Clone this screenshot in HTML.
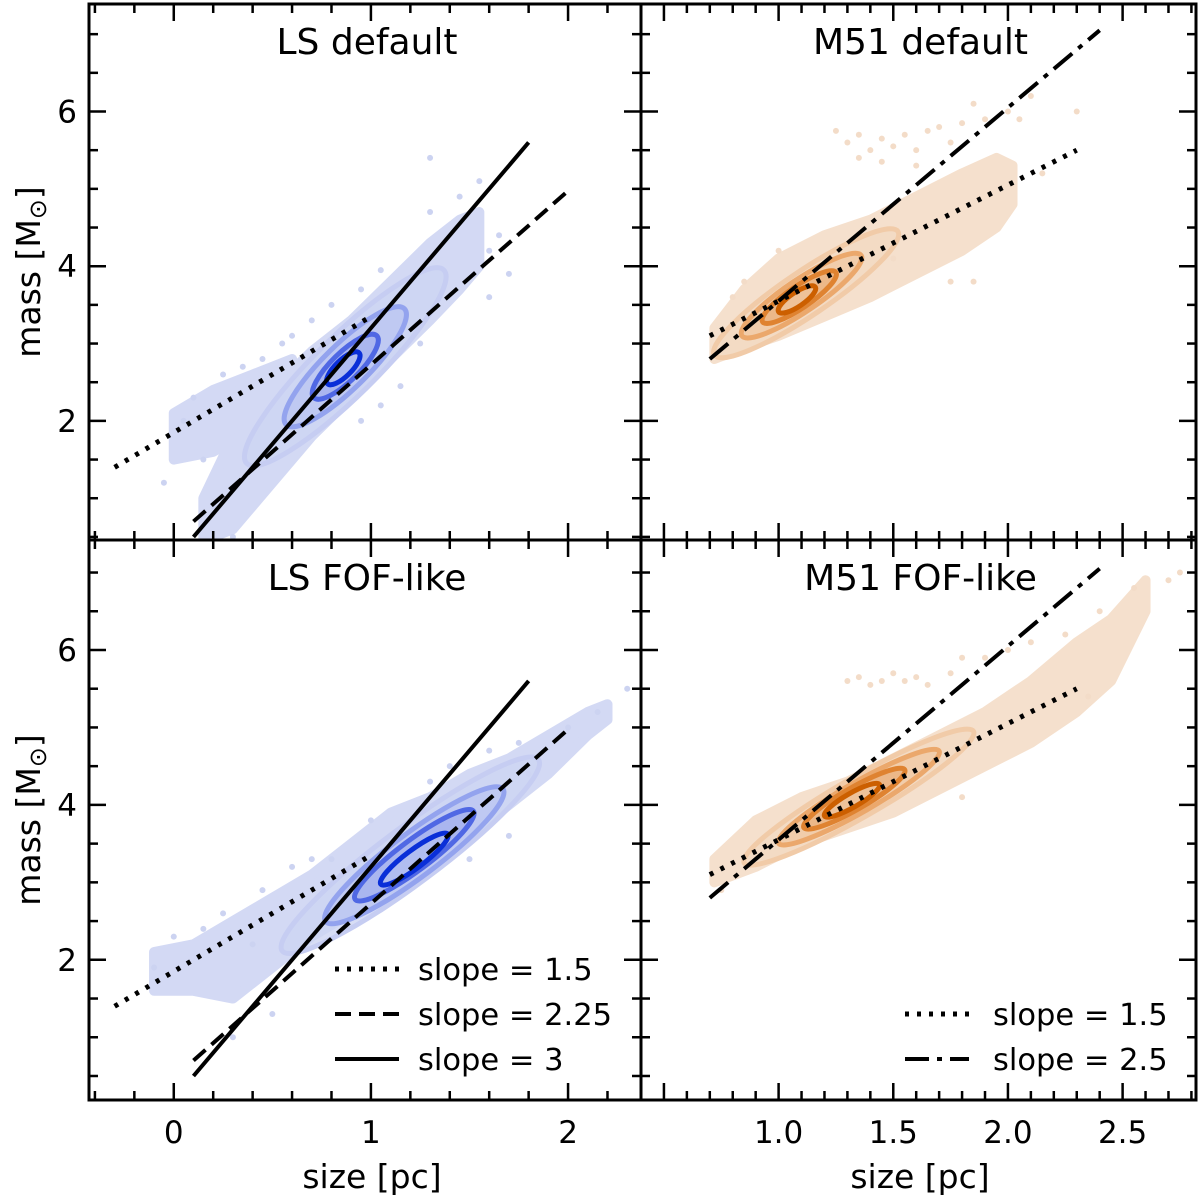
<!DOCTYPE html>
<html><head><meta charset="utf-8"><style>
body{margin:0;background:#fff}
svg{display:block;font-family:"DejaVu Sans","Liberation Sans",sans-serif}
</style></head><body>
<svg id="chart" width="1200" height="1201" viewBox="0 0 1200 1201" xmlns="http://www.w3.org/2000/svg">
<g id="content"></g>
</svg>
<script>
// ---- data ----
const titles = ["LS default","M51 default","LS FOF-like","M51 FOF-like"];
const yTicks = [2,4,6];
const xTicksLS = [0,1,2];
const xTickLabelsLS = ["0","1","2"];
const xTicksM51 = [1.0,1.5,2.0,2.5];
const xTickLabelsM51 = ["1.0","1.5","2.0","2.5"];
// fit lines: [slope, intercept, xStart, xEnd]
const lsLines = [[1.5,1.85,-0.3,1.0],[2.25,0.475,0.1,2.0],[3,0.2,0.1,1.8]];
const m51Lines = [[1.5,2.05,0.7,2.3],[2.5,1.05,0.7,2.4]];
// density bands: [x, yLow, yHigh]
const bandTL = [[0.15,0.45,1.0],[0.3,0.6,1.8],[0.5,1.2,2.4],[0.7,1.8,2.9],[0.9,2.3,3.3],[1.1,2.8,3.8],[1.3,3.3,4.3],[1.45,3.7,4.6],[1.55,4.0,4.7]];
const bandTLwing = [[0.0,1.5,2.1],[0.2,1.6,2.4],[0.4,1.9,2.6],[0.6,2.2,2.8]];
const bandTR = [[0.72,2.8,3.2],[0.85,2.95,3.7],[1.0,3.1,4.1],[1.2,3.35,4.4],[1.4,3.6,4.6],[1.6,3.9,4.9],[1.8,4.2,5.2],[1.95,4.5,5.4],[2.02,4.8,5.3]];
const bandBL = [[-0.1,1.6,2.1],[0.1,1.6,2.2],[0.3,1.5,2.5],[0.5,1.9,2.8],[0.7,2.3,3.1],[0.9,2.6,3.5],[1.1,2.9,3.9],[1.3,3.2,4.1],[1.5,3.6,4.4],[1.7,4.0,4.6],[1.9,4.4,4.9],[2.1,4.9,5.2],[2.2,5.1,5.3]];
const bandBR = [[0.72,3.0,3.3],[0.9,3.2,3.8],[1.1,3.5,4.1],[1.3,3.7,4.3],[1.5,3.9,4.6],[1.7,4.2,4.9],[1.9,4.5,5.2],[2.1,4.8,5.6],[2.3,5.2,6.1],[2.45,5.6,6.4],[2.6,6.5,6.9]];
// sparse points [x,y]
const ptsTL = [[-0.05,1.2],[0.05,2.0],[0.15,1.5],[0.1,2.3],[0.25,2.6],[0.35,2.7],[0.45,2.8],[0.55,3.0],[0.6,3.1],[0.7,3.3],[0.8,3.5],[0.95,3.7],[1.05,3.95],[1.25,3.0],[1.15,2.45],[1.05,2.2],[1.3,4.7],[1.45,4.9],[1.55,5.1],[1.6,4.2],[1.7,3.9],[1.6,3.6],[1.65,4.4],[1.3,5.4],[0.95,2.0],[0.2,0.9],[0.3,0.5]];
const ptsTR = [[1.3,5.6],[1.35,5.7],[1.4,5.5],[1.45,5.65],[1.5,5.55],[1.55,5.7],[1.6,5.5],[1.65,5.75],[1.7,5.8],[1.75,5.6],[1.8,5.85],[1.9,5.9],[2.0,6.0],[1.85,6.1],[2.05,5.9],[2.1,6.2],[2.3,6.0],[1.35,5.4],[1.6,5.3],[1.75,3.8],[1.85,3.8],[1.5,4.1],[0.8,3.6],[0.85,3.8],[1.0,4.2],[2.15,5.2],[1.25,5.75],[1.45,5.35]];
const ptsBL = [[-0.1,1.9],[0.0,2.3],[0.15,2.4],[0.25,2.6],[0.4,2.2],[0.5,1.3],[0.45,2.9],[0.6,3.2],[0.7,3.3],[0.8,3.3],[1.0,3.8],[1.3,4.3],[1.4,4.5],[1.6,4.7],[1.75,4.8],[1.7,3.6],[1.8,4.4],[2.0,5.0],[2.15,5.2],[2.3,5.5],[1.5,3.3],[0.3,1.0]];
const ptsBR = [[1.3,5.6],[1.35,5.65],[1.4,5.55],[1.45,5.6],[1.5,5.7],[1.55,5.6],[1.6,5.65],[1.65,5.55],[1.75,5.7],[1.9,5.9],[2.0,6.0],[2.1,6.1],[2.25,6.2],[2.4,6.5],[2.55,6.8],[2.7,6.9],[2.75,7.0],[1.8,5.9],[2.35,5.4],[0.75,2.9],[1.8,4.1]];
// contour rings: [cx, cy, halfLengthX, slope, minorHalfWidth]
const ringsTL = [[0.87,2.7,0.5,2.5,30],[0.87,2.7,0.3,2.5,22],[0.87,2.7,0.16,2.5,14],[0.86,2.68,0.08,2.5,8]];
const ringsTR = [[1.12,3.65,0.4,2.0,22],[1.1,3.62,0.26,2.0,16],[1.09,3.6,0.16,2.0,11],[1.08,3.57,0.08,2.0,7]];
const ringsBL = [[1.2,3.35,0.65,1.9,28],[1.22,3.35,0.45,1.9,22],[1.22,3.35,0.3,1.9,15],[1.22,3.3,0.17,1.9,9]];
const ringsBR = [[1.35,4.1,0.5,1.7,20],[1.35,4.1,0.35,1.7,15],[1.33,4.08,0.22,1.7,11],[1.32,4.06,0.12,1.7,7]];

// ---- drawing ----
const NS="http://www.w3.org/2000/svg";
const root=document.getElementById('content');
function mk(tag,attrs,parent){const e=document.createElementNS(NS,tag);for(const k in attrs)e.setAttribute(k,attrs[k]);(parent||root).appendChild(e);return e;}
const lsBlue={pt:"#ccd3f1",band:"#d3d9f4",rings:["#c6cdf2","#93a3ee","#5068e4","#0a2fd8"],fill:["#cdd4f3","#bcc5f1","#a5b2ee","#c4ccf3"]};
const mOr={pt:"#f3dcc8",band:"#f5e0cd",rings:["#f1cba8","#eba86c","#df8331","#cc5f00"],fill:["#f3d9c2","#f0c9a5","#ebb381","#f3dac3"]};
const panels=[
 {x0:89,x1:641,y0:4,y1:540,xd:[-0.43,2.37],yd:[0.46,7.39],ls:true,band:bandTL,wing:bandTLwing,pts:ptsTL,rings:ringsTL,name:"ls-default"},
 {x0:641,x1:1196,y0:4,y1:540,xd:[0.40,2.82],yd:[0.46,7.39],ls:false,band:bandTR,pts:ptsTR,rings:ringsTR,name:"m51-default"},
 {x0:89,x1:641,y0:540,y1:1100,xd:[-0.43,2.37],yd:[0.19,7.42],ls:true,band:bandBL,pts:ptsBL,rings:ringsBL,name:"ls-fof"},
 {x0:641,x1:1196,y0:540,y1:1100,xd:[0.40,2.82],yd:[0.19,7.42],ls:false,band:bandBR,pts:ptsBR,rings:ringsBR,name:"m51-fof"}];
const clipDefs=mk('defs',{});
panels.forEach((p,i)=>{
 const sx=v=>p.x0+(v-p.xd[0])/(p.xd[1]-p.xd[0])*(p.x1-p.x0);
 const sy=v=>p.y1-(v-p.yd[0])/(p.yd[1]-p.yd[0])*(p.y1-p.y0);
 const col=p.ls?lsBlue:mOr;
 const cp=mk('clipPath',{id:'clip'+i},clipDefs);
 mk('rect',{x:p.x0,y:p.y0,width:p.x1-p.x0,height:p.y1-p.y0},cp);
 const g=mk('g',{'clip-path':'url(#clip'+i+')'});
 
 
 function band(b,nm){
  const top=b.map(r=>sx(r[0])+','+sy(r[2])).join(' ');
  const bot=b.slice().reverse().map(r=>sx(r[0])+','+sy(r[1])).join(' ');
  const pg=mk('polygon',{points:top+' '+bot,fill:col.band,stroke:col.band,'stroke-width':10,'stroke-linejoin':'round'},g);
  
  
 }
 band(p.band,'scatter-cloud');
 if(p.wing) band(p.wing,'scatter-cloud-wing');
 p.pts.forEach(d=>{
  const c=mk('circle',{cx:sx(d[0]),cy:sy(d[1]),r:3,fill:col.pt},g);
  
  
 });
 const pxPerX=(p.x1-p.x0)/(p.xd[1]-p.xd[0]), pxPerY=(p.y1-p.y0)/(p.yd[1]-p.yd[0]);
 p.rings.forEach((r,k)=>{
  const ang=Math.atan(r[3]*pxPerY/pxPerX);
  const a=r[2]*pxPerX/Math.cos(ang);
  const e=mk('ellipse',{cx:sx(r[0]),cy:sy(r[1]),rx:a,ry:r[4],fill:col.fill[k],'fill-opacity':k==3?0.3:0.8,stroke:col.rings[k],'stroke-width':5,
   transform:'rotate('+(-ang*180/Math.PI)+' '+sx(r[0])+' '+sy(r[1])+')'},g);
  
  
 });
 const lines=p.ls?lsLines:m51Lines;
 const dashes=p.ls?["4,8","16,8",""]:["4,8","24,8,5,8"];
 const names=p.ls?["slope-1.5-line","slope-2.25-line","slope-3-line"]:["slope-1.5-line","slope-2.5-line"];
 lines.forEach((l,k)=>{
  const ln=mk('line',{x1:sx(l[2]),y1:sy(l[0]*l[2]+l[1]),x2:sx(l[3]),y2:sy(l[0]*l[3]+l[1]),stroke:'#000','stroke-width':k==0?5:4,'stroke-dasharray':dashes[k]},g);
  
  
 });
 const tg=mk('g',{stroke:'#000','stroke-width':2.5});
 
 
 for(let v=0.5;v<p.yd[1];v+=0.5){ if(v<p.yd[0])continue; const L=(Math.abs(v%2)<1e-6)?17:9; const y=sy(v);
  mk('line',{x1:p.x0,y1:y,x2:p.x0+L,y2:y},tg); mk('line',{x1:p.x1,y1:y,x2:p.x1-L,y2:y},tg);}
 const minor=p.ls?0.2:0.1, major=p.ls?1:0.5;
 for(let v=Math.ceil(p.xd[0]/minor)*minor;v<p.xd[1];v+=minor){ const m=Math.abs(v/major-Math.round(v/major))<1e-6; const L=m?17:9; const x=sx(v);
  mk('line',{x1:x,y1:p.y1,x2:x,y2:p.y1-L},tg); mk('line',{x1:x,y1:p.y0,x2:x,y2:p.y0+L},tg);}
 const fr=mk('rect',{x:p.x0,y:p.y0,width:p.x1-p.x0,height:p.y1-p.y0,fill:'none',stroke:'#000','stroke-width':3});
 
 
 const t=mk('text',{x:(p.x0+p.x1)/2+2,y:p.y0+50,'text-anchor':'middle','font-size':36});
 t.textContent=titles[i];
 
 
 if(i%2==0){
  yTicks.forEach(v=>{const tl=mk('text',{x:p.x0-12,y:sy(v)+11,'text-anchor':'end','font-size':31});tl.textContent=String(v);
   
   });
  const yl=mk('text',{x:0,y:0,'text-anchor':'middle','font-size':33,transform:'translate(40,'+((p.y0+p.y1)/2)+') rotate(-90)'});
  yl.innerHTML='mass [M<tspan font-size="24" dy="6">⊙</tspan><tspan dy="-6">]</tspan>';
  
  
 }
 if(i>=2){
  const tv=p.ls?xTicksLS:xTicksM51, tl=p.ls?xTickLabelsLS:xTickLabelsM51;
  tv.forEach((v,k)=>{const e=mk('text',{x:sx(v),y:1143,'text-anchor':'middle','font-size':31});e.textContent=tl[k];
   
   });
  const xl=mk('text',{x:p.ls?372:920,y:1188,'text-anchor':'middle','font-size':33});xl.textContent='size [pc]';
  
  
 }
});
function legend(items,lx,tx,ys,nm){
 const g=mk('g',{});
 
 
 items.forEach((it,k)=>{
  mk('line',{x1:lx,y1:ys[k]-9,x2:lx+64,y2:ys[k]-9,stroke:'#000','stroke-width':it[1]=="4,8"?5:4,'stroke-dasharray':it[1]},g);
  const t=mk('text',{x:tx,y:ys[k]+2,'font-size':30.5},g);t.textContent=it[0];
  
  
 });
}
legend([["slope = 1.5","4,8"],["slope = 2.25","16,8"],["slope = 3",""]],335,418,[978,1023,1068],'ls-legend');
legend([["slope = 1.5","4,8"],["slope = 2.5","24,8,5,8"]],905,993,[1023,1068],'m51-legend');
</script>
</body></html>
